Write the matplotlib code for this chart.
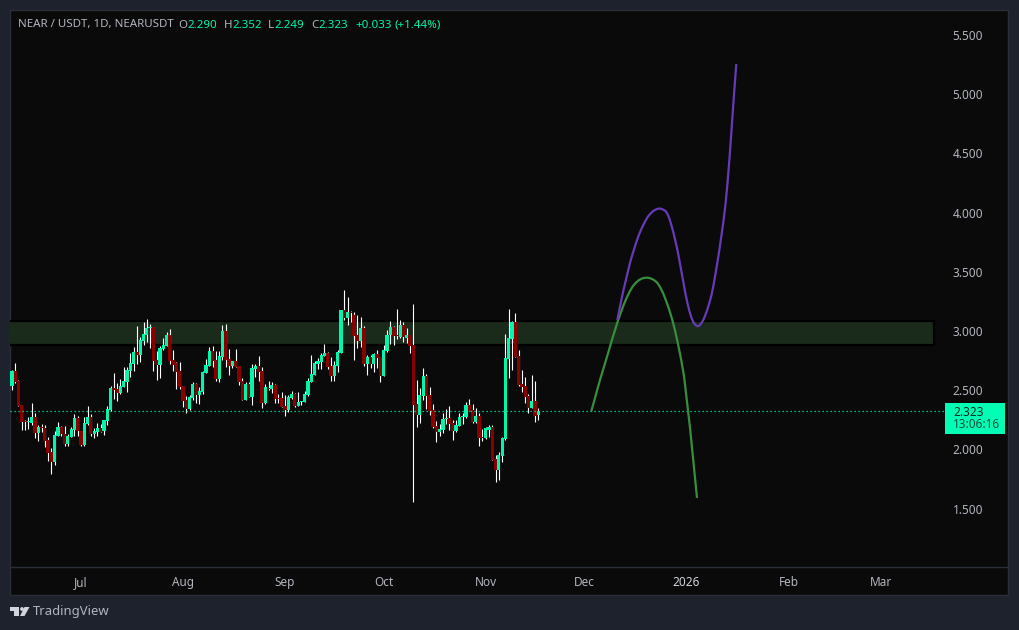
import matplotlib
matplotlib.use('Agg')
import matplotlib.pyplot as plt
from matplotlib.patches import Rectangle, Polygon, Circle

# daily candles, first one is 21 days before Jul 1
first_day = -21
opens = [2.536, 2.662, 2.578, 2.375, 2.240, 2.235, 2.221, 2.274, 2.139, 2.187, 2.181, 2.080, 1.979, 1.894, 2.114, 2.190, 2.131, 2.046, 2.105, 2.164,
         2.266, 2.156, 2.038, 2.215, 2.274, 2.131, 2.147, 2.181, 2.156, 2.240, 2.333, 2.519, 2.510, 2.477, 2.527, 2.569, 2.662, 2.721, 2.823, 2.797,
         2.915, 2.966, 3.028, 3.034, 2.755, 2.713, 2.848, 2.873, 2.966, 2.755, 2.730, 2.662, 2.536, 2.417, 2.342, 2.434, 2.553, 2.460, 2.485, 2.645,
         2.704, 2.831, 2.755, 2.595, 2.780, 3.000, 2.764, 2.704, 2.747, 2.704, 2.578, 2.417, 2.553, 2.443, 2.679, 2.704, 2.662, 2.392, 2.519, 2.510,
         2.544, 2.434, 2.434, 2.367, 2.333, 2.434, 2.468, 2.367, 2.401, 2.401, 2.460, 2.569, 2.628, 2.721, 2.738, 2.789, 2.814, 2.704, 2.620, 2.704,
         2.811, 3.177, 3.110, 3.160, 3.135, 2.966, 2.915, 3.025, 2.721, 2.780, 2.721, 2.806, 2.780, 2.620, 2.831, 2.966, 3.034, 2.966, 2.949, 3.050,
         2.941, 2.966, 2.882, 2.384, 2.291, 2.451, 2.620, 2.460, 2.333, 2.198, 2.147, 2.164, 2.257, 2.263, 2.223, 2.156, 2.198, 2.274, 2.274, 2.375,
         2.333, 2.232, 2.283, 2.102, 2.097, 2.164, 2.190, 1.920, 1.827, 1.945, 2.088, 2.764, 2.932, 3.076, 2.789, 2.552, 2.536, 2.451, 2.350, 2.409,
         2.290]
highs = [2.671, 2.727, 2.586, 2.375, 2.249, 2.277, 2.389, 2.308, 2.206, 2.212, 2.206, 2.105, 2.010, 2.156, 2.232, 2.198, 2.198, 2.131, 2.190, 2.299,
         2.282, 2.156, 2.274, 2.367, 2.299, 2.181, 2.223, 2.215, 2.249, 2.367, 2.536, 2.645, 2.561, 2.595, 2.696, 2.696, 2.814, 2.865, 3.042, 2.949,
         3.076, 3.101, 3.059, 3.034, 2.831, 2.873, 2.941, 2.991, 3.017, 2.839, 2.738, 2.738, 2.536, 2.451, 2.460, 2.569, 2.561, 2.527, 2.662, 2.764,
         2.865, 2.873, 2.831, 2.831, 3.050, 3.059, 2.848, 2.747, 2.848, 2.704, 2.603, 2.569, 2.569, 2.721, 2.721, 2.789, 2.696, 2.553, 2.578, 2.569,
         2.553, 2.468, 2.485, 2.460, 2.460, 2.493, 2.477, 2.485, 2.409, 2.493, 2.603, 2.797, 2.747, 2.772, 2.814, 2.890, 2.823, 2.780, 2.747, 2.839,
         3.177, 3.346, 3.287, 3.169, 3.160, 3.135, 3.118, 3.042, 2.797, 2.797, 2.814, 2.839, 2.780, 2.882, 3.008, 3.084, 3.042, 3.186, 3.093, 3.076,
         3.025, 2.966, 3.228, 2.586, 2.519, 2.688, 2.637, 2.527, 2.384, 2.240, 2.215, 2.308, 2.342, 2.367, 2.249, 2.249, 2.308, 2.308, 2.401, 2.426,
         2.384, 2.350, 2.308, 2.173, 2.190, 2.207, 2.207, 1.953, 1.979, 2.105, 2.974, 3.186, 3.084, 3.152, 2.839, 2.671, 2.612, 2.468, 2.628, 2.578,
         2.352]
lows = [2.502, 2.558, 2.367, 2.164, 2.164, 2.173, 2.206, 2.097, 2.074, 2.150, 2.021, 1.903, 1.796, 1.869, 2.114, 2.114, 2.029, 2.029, 2.105, 2.114,
        2.114, 2.029, 2.029, 2.206, 2.114, 2.097, 2.114, 2.147, 2.122, 2.206, 2.325, 2.426, 2.409, 2.468, 2.527, 2.485, 2.612, 2.662, 2.721, 2.738,
        2.882, 2.907, 2.856, 2.662, 2.586, 2.603, 2.839, 2.873, 2.721, 2.662, 2.510, 2.510, 2.358, 2.308, 2.333, 2.417, 2.392, 2.384, 2.468, 2.645,
        2.704, 2.696, 2.578, 2.569, 2.755, 2.696, 2.628, 2.688, 2.696, 2.544, 2.417, 2.417, 2.443, 2.375, 2.612, 2.578, 2.350, 2.384, 2.502, 2.477,
        2.392, 2.392, 2.358, 2.282, 2.316, 2.426, 2.358, 2.367, 2.375, 2.401, 2.451, 2.569, 2.628, 2.679, 2.679, 2.789, 2.679, 2.578, 2.578, 2.654,
        2.811, 3.093, 3.050, 3.076, 2.755, 2.856, 2.865, 2.704, 2.629, 2.688, 2.654, 2.688, 2.569, 2.620, 2.823, 2.890, 2.882, 2.932, 2.941, 2.907,
        2.899, 2.814, 1.557, 2.190, 2.223, 2.418, 2.342, 2.291, 2.181, 2.063, 2.114, 2.139, 2.215, 2.164, 2.080, 2.147, 2.198, 2.215, 2.266, 2.325,
        2.223, 2.223, 2.029, 2.072, 2.088, 2.105, 1.911, 1.726, 1.742, 1.894, 2.080, 2.603, 2.671, 2.780, 2.536, 2.485, 2.392, 2.308, 2.350, 2.232,
        2.249]
closes = [2.662, 2.567, 2.367, 2.235, 2.235, 2.240, 2.274, 2.139, 2.190, 2.181, 2.071, 1.970, 1.894, 2.122, 2.190, 2.131, 2.046, 2.114, 2.173, 2.266,
          2.156, 2.038, 2.223, 2.274, 2.131, 2.156, 2.181, 2.147, 2.249, 2.342, 2.519, 2.502, 2.477, 2.536, 2.578, 2.671, 2.730, 2.823, 2.797, 2.924,
          2.974, 3.025, 3.034, 2.747, 2.713, 2.856, 2.882, 2.966, 2.747, 2.713, 2.654, 2.524, 2.409, 2.342, 2.440, 2.553, 2.460, 2.493, 2.654, 2.713,
          2.831, 2.747, 2.595, 2.789, 3.000, 2.755, 2.704, 2.747, 2.696, 2.569, 2.417, 2.553, 2.443, 2.688, 2.704, 2.654, 2.392, 2.527, 2.513, 2.544,
          2.426, 2.429, 2.358, 2.333, 2.443, 2.468, 2.367, 2.401, 2.409, 2.468, 2.578, 2.637, 2.730, 2.747, 2.797, 2.814, 2.696, 2.620, 2.713, 2.823,
          3.177, 3.110, 3.160, 3.152, 2.958, 2.915, 3.025, 2.721, 2.780, 2.721, 2.806, 2.772, 2.620, 2.839, 2.966, 3.034, 2.958, 2.958, 3.050, 2.949,
          2.966, 2.873, 2.375, 2.291, 2.460, 2.620, 2.451, 2.325, 2.190, 2.147, 2.173, 2.257, 2.266, 2.215, 2.156, 2.207, 2.274, 2.280, 2.375, 2.325,
          2.232, 2.283, 2.097, 2.097, 2.181, 2.190, 1.911, 1.827, 1.953, 2.097, 2.772, 2.941, 3.076, 2.780, 2.544, 2.527, 2.443, 2.350, 2.409, 2.283,
          2.323]

# hand drawn projection curves
green_days = [155.11, 155.93, 156.84, 157.75, 158.66, 159.57, 160.49, 161.40, 162.31, 163.22, 164.13, 165.05, 165.96, 166.87, 167.78, 168.69, 169.60, 170.52,
              171.43, 172.34, 173.25, 174.16, 175.08, 175.99, 176.90, 177.81, 178.72, 179.64, 180.55, 181.46, 182.37, 183.28, 184.19, 185.11, 186.02, 186.93, 187.23]
green_vals = [2.325, 2.405, 2.498, 2.587, 2.671, 2.755, 2.840, 2.928, 3.008, 3.089, 3.160, 3.228, 3.287, 3.338, 3.380, 3.409, 3.430, 3.443,
              3.449, 3.450, 3.443, 3.430, 3.409, 3.371, 3.321, 3.257, 3.186, 3.101, 3.004, 2.890, 2.764, 2.620, 2.401, 2.181, 1.928, 1.675, 1.591]
purple_days = [163.01, 163.68, 164.29, 164.89, 165.50, 166.26, 167.02, 167.78, 168.69, 169.60, 170.52, 171.43, 172.34, 173.25, 174.16, 175.08, 175.99, 176.90,
               177.66, 178.27, 178.88, 179.48, 180.09, 180.70, 181.31, 181.91, 182.52, 183.13, 183.74, 184.35, 184.95, 185.56, 186.17, 186.78, 187.39, 187.99,
               188.60, 189.21, 189.82, 190.43, 191.03, 191.64, 192.25, 192.86, 193.47, 194.07, 194.68, 195.29, 195.90, 196.50, 197.11, 197.72, 198.33, 198.94, 199.18]
purple_vals = [3.093, 3.186, 3.270, 3.346, 3.418, 3.506, 3.591, 3.662, 3.743, 3.814, 3.873, 3.924, 3.966, 3.996, 4.017, 4.030, 4.034, 4.025,
               4.013, 3.987, 3.945, 3.890, 3.827, 3.755, 3.679, 3.591, 3.498, 3.405, 3.312, 3.232, 3.165, 3.110, 3.072, 3.051, 3.040, 3.046,
               3.068, 3.097, 3.139, 3.186, 3.241, 3.304, 3.388, 3.485, 3.586, 3.692, 3.810, 3.932, 4.072, 4.249, 4.460, 4.696, 4.941, 5.169, 5.253]

zone_low, zone_high = 2.878, 3.084
zone_end = 259.3
last_price = 2.323

price_ticks = [1.5, 2.0, 2.5, 3.0, 3.5, 4.0, 4.5, 5.0, 5.5]
month_days = [0, 31, 62, 92, 123, 153, 184, 215, 243]
month_labels = ['Jul', 'Aug', 'Sep', 'Oct', 'Nov', 'Dec', '2026', 'Feb', 'Mar']

BG = '#1e222d'
BLACK = '#0a0a0a'
UP = '#00f5ad'
DOWN = '#880000'
GREY = '#b2b5be'

plt.rcParams['font.family'] = ['Noto Sans', 'DejaVu Sans']

fig = plt.figure(figsize=(10.19, 6.30), dpi=100, facecolor=BG)

# chrome in pixel coordinates
chrome = fig.add_axes([0, 0, 1, 1])
chrome.set_xlim(0, 1019)
chrome.set_ylim(630, 0)
chrome.axis('off')
chrome.add_patch(Rectangle((10, 10), 998, 585, facecolor=BLACK, edgecolor='#2a2e39', lw=1))
chrome.plot([10, 1008], [567, 567], color='#2a2e39', lw=1)

# main chart
ax = fig.add_axes([10 / 1019, (630 - 567) / 630, 934 / 1019, 557 / 630])
ax.set_facecolor('none')
ax.set_xlim(-21.58, 262.3)
ax.set_ylim(1.0084, 5.709)
for s in ax.spines.values():
    s.set_visible(False)

ax.add_patch(Rectangle((-30, zone_low), zone_end + 30, zone_high - zone_low,
                       facecolor='#1b2b1b', edgecolor='black', lw=1.6, zorder=1))

days = [first_day + i for i in range(len(opens))]
ax.vlines(days, lows, highs, color='white', lw=0.8, zorder=2)
colors = [UP if c >= o else DOWN for o, c in zip(opens, closes)]
heights = [abs(c - o) for o, c in zip(opens, closes)]
bottoms = [min(o, c) for o, c in zip(opens, closes)]
ax.bar(days, heights, bottom=bottoms, width=0.98, color=colors, linewidth=0, zorder=3)

ax.axhline(last_price, color=UP, lw=0.9, ls=(0, (1, 2.2)), zorder=4)

ax.plot(green_days, green_vals, color='#388e3c', lw=1.6, zorder=5, solid_capstyle='butt')
ax.plot(purple_days, purple_vals, color='#673ab7', lw=1.6, zorder=5, solid_capstyle='butt')

ax.yaxis.tick_right()
ax.set_yticks(price_ticks)
ax.set_yticklabels(['%.3f' % p for p in price_ticks], color=GREY, fontsize=8.5)
ax.tick_params(axis='y', length=0, pad=6.2)
ax.set_xticks(month_days)
ax.set_xticklabels(month_labels, color=GREY, fontsize=8.5)
ax.tick_params(axis='x', length=0, pad=6.2)
for lab in ax.get_xticklabels():
    if lab.get_text() == '2026':
        lab.set_fontweight('bold')
        lab.set_color('#d1d4dc')

# header line
header = [(18, 'NEAR / USDT, 1D, NEARUSDT', GREY), (178.5, 'O', GREY), (187, '2.290', UP), (224, 'H', GREY), (232, '2.352', UP),
          (268, 'L', GREY), (274, '2.249', UP), (311, 'C', GREY), (318.5, '2.323', UP), (355.5, '+0.033', UP), (395, '(+1.44%)', UP)]
for x, txt, col in header:
    chrome.text(x, 25, txt, color=col, fontsize=8.3, va='center', ha='left')

# last price tag
chrome.add_patch(Rectangle((945, 403), 60, 31, facecolor='#00ffb4', edgecolor='none'))
chrome.text(953, 412, '2.323', color='#0a2a22', fontsize=8.5, va='center')
chrome.text(953, 425, '13:06:16', color='#0b4a3a', fontsize=8.5, va='center')

# TradingView logo
chrome.add_patch(Polygon([(10, 607), (19.5, 607), (19.5, 616), (14.5, 616), (14.5, 611), (10, 611)], facecolor='#d1d4dc', edgecolor='none'))
chrome.add_patch(Circle((22, 609), 1.9, facecolor='#d1d4dc', edgecolor='none'))
chrome.add_patch(Polygon([(24.5, 607), (29.5, 607), (24.5, 616), (20, 616)], facecolor='#d1d4dc', edgecolor='none'))
chrome.text(33, 612, 'TradingView', color=GREY, fontsize=9.4, va='center')

fig.savefig('out.png', dpi=100, facecolor=BG)
